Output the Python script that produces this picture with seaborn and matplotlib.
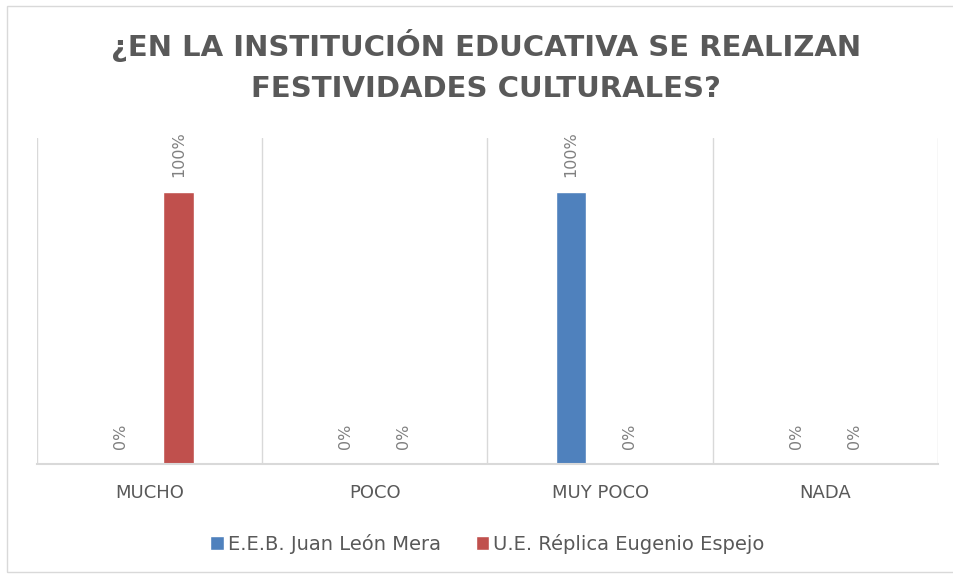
import numpy as np
import pandas as pd
import matplotlib.pyplot as plt
import seaborn as sns
from matplotlib.patches import Rectangle

# Datos
categorias = ['MUCHO', 'POCO', 'MUY POCO', 'NADA']
instituciones = ['E.E.B. Juan León Mera', 'U.E. Réplica Eugenio Espejo']
juan_leon_mera = [0.0, 0.0, 1.0, 0.0]
replica_espejo = [1.0, 0.0, 0.0, 0.0]
colores = ['#4F81BD', '#C0504D']

df = pd.DataFrame({
    'Respuesta': categorias * 2,
    'Institución': [instituciones[0]] * 4 + [instituciones[1]] * 4,
    'Porcentaje': juan_leon_mera + replica_espejo,
})

sns.set_theme(style='white')
plt.rcParams['font.family'] = ['DejaVu Sans']
gris = '#595959'

fig = plt.figure(figsize=(9.54, 5.78), dpi=100)
ax = fig.add_axes([0.039, 0.197, 0.944, 0.564])

sns.barplot(data=df, x='Respuesta', y='Porcentaje', hue='Institución',
            order=categorias, hue_order=instituciones, palette=colores,
            saturation=1, width=0.516, gap=0.47, ax=ax)

# etiquetas de datos
for cont in ax.containers:
    ax.bar_label(cont, labels=[f'{b.get_height():.0%}' for b in cont],
                 rotation=90, padding=11, fontsize=11.5, color='#808080')

ax.set_xlim(-0.5, 3.5)
ax.set_ylim(0, 1.2)
ax.set_yticks([])
ax.set_xlabel('')
ax.set_ylabel('')
ax.set_xticks(np.arange(-0.5, 4, 1), minor=True)
ax.grid(which='minor', axis='x', color='#d9d9d9', lw=1)
ax.tick_params(which='both', length=0)
ax.tick_params(axis='x', pad=14, labelsize=13, labelcolor=gris)
for s in ['top', 'left', 'right']:
    ax.spines[s].set_visible(False)
ax.spines['bottom'].set_color('#d9d9d9')
ax.spines['bottom'].set_linewidth(1.5)

sns.move_legend(ax, 'center', bbox_to_anchor=(0.5, -0.245), ncol=2,
                frameon=False, title=None, fontsize=14, handlelength=0.7,
                handleheight=0.7, handletextpad=0.2, columnspacing=1.8)
for t in ax.get_legend().get_texts():
    t.set_color(gris)

fig.text(0.509, 1 - 66 / 578,
         '¿EN LA INSTITUCIÓN EDUCATIVA SE REALIZAN\nFESTIVIDADES CULTURALES?',
         ha='center', va='center', fontsize=21, fontweight='bold', color=gris,
         linespacing=1.55)

fig.add_artist(Rectangle((7 / 954, 6 / 578), 1.0, 1 - 12 / 578,
                         transform=fig.transFigure, fill=False,
                         edgecolor='#d9d9d9', lw=1))

fig.savefig('out.png', dpi=100)
